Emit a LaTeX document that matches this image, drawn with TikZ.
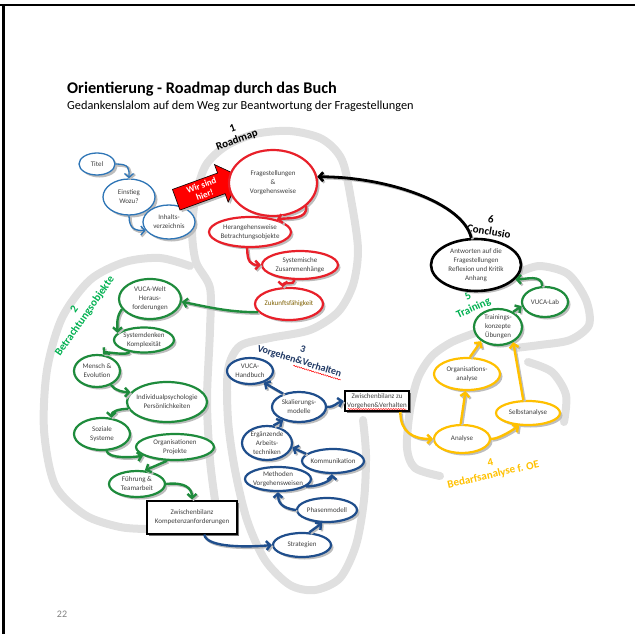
\documentclass[tikz,border=0pt]{standalone}
\usepackage{fontspec}
\setmainfont{Carlito}
\usetikzlibrary{shapes.geometric,shapes.arrows,shadows,arrows.meta,decorations.pathmorphing,calc}

\definecolor{roadgray}{HTML}{E0E0E0}
\definecolor{shadowgray}{HTML}{BDBDBD}
\definecolor{txtgray}{HTML}{404040}
\definecolor{mapred}{HTML}{E8202A}
\definecolor{introblue}{HTML}{2E75B6}
\definecolor{wayblue}{HTML}{1F4E8C}
\definecolor{objgreen}{HTML}{1E8B3C}
\definecolor{lblgreen}{HTML}{00B050}
\definecolor{anyellow}{HTML}{FFC000}
\definecolor{lblblue}{HTML}{1F3864}
\definecolor{futurebrown}{HTML}{7F6000}

\newcommand\nodefont{\fontsize{7}{9}\selectfont}
\newcommand\lblfont{\fontsize{11}{12.5}\selectfont\bfseries}

\tikzset{
  blob/.style={ellipse, draw, line width=2.2pt, fill=white, inner xsep=-5pt, inner ysep=-2pt,
    align=center, font=\nodefont, text=txtgray,
    drop shadow={shadow xshift=2.5pt, shadow yshift=-2.5pt, fill=shadowgray, opacity=1}},
  introblob/.style={blob, draw=introblue, line width=1.3pt},
  redblob/.style={blob, draw=mapred},
  blackblob/.style={blob, draw=black, line width=2.6pt},
  greenblob/.style={blob, draw=objgreen},
  yellowblob/.style={blob, draw=anyellow},
  blueblob/.style={blob, draw=wayblue},
  box/.style={rectangle, draw=black, line width=2pt, fill=white, inner sep=2.5pt,
    align=center, font=\nodefont, text=txtgray,
    drop shadow={shadow xshift=2pt, shadow yshift=-2pt, fill=black!55, opacity=1}},
  flow/.style={line width=2.4pt, -{Straight Barb[length=4pt,width=9pt]},
    preaction={draw=shadowgray, line width=2.4pt, transform canvas={shift={(1.5pt,-1.5pt)}}}},
  introflow/.style={flow, draw=introblue, line width=1.3pt},
  redflow/.style={flow, draw=mapred},
  blackflow/.style={flow, draw=black, line width=2.8pt},
  greenflow/.style={flow, draw=objgreen},
  yellowflow/.style={flow, draw=anyellow},
  blueflow/.style={flow, draw=wayblue},
  road/.style={draw=roadgray, line width=8pt, line cap=round, line join=round},
  lbl/.style={align=center, font=\lblfont, inner sep=1pt},
  spellred/.style={draw=red, line width=0.5pt, decorate,
    decoration={snake, amplitude=0.5pt, segment length=2.5pt}}
}

\begin{document}
\begin{tikzpicture}[x=1pt,y=-1pt]
\useasboundingbox (0,0) rectangle (635,634);
% frame of the page
\draw[line width=2.5pt] (0,5) -- (635,5);
\draw[line width=3pt] (3,5) -- (3,634);

% title
\node[anchor=base west, inner sep=0pt, font=\fontsize{16.3}{18}\selectfont\bfseries] (title) at (67,94) {Orientierung - Roadmap durch das Buch};
\node[anchor=base west, inner sep=0pt, font=\fontsize{12.3}{14}\selectfont] (subtitle) at (67,110) {Gedankenslalom auf dem Weg zur Beantwortung der Fragestellungen};

% gray road
\draw[road] plot[smooth] coordinates {(215,500) (210,460) (207,400) (210,330) (210,288) (196,262) (192,230) (196,195) (206,165) (226,146) (255,134) (290,131) (322,139) (342,160) (352,205) (358,250) (353,285) (338,312) (310,330) (270,338) (240,346) (228,370) (228,420) (235,470) (247,520) (265,560) (290,585) (315,590) (340,578) (356,545) (364,500) (366,455) (363,420)};
\draw[road] plot[smooth] coordinates {(190,266) (160,258) (125,262) (90,280) (62,318) (47,370) (44,430) (55,485) (85,515) (120,527) (148,529)};
\draw[road] plot[smooth] coordinates {(440,476) (415,468) (407,448) (410,410) (418,378) (432,356) (452,342) (478,332)};
\draw[road] plot[smooth] coordinates {(528,362) (552,372) (566,395) (564,422)};
\draw[road] plot[smooth] coordinates {(520,272) (540,266) (568,274) (586,300) (589,325) (570,340) (540,345) (515,348)};

% intro
\node[introblob, minimum width=36pt, minimum height=22pt] (titel) at (97,164) {Titel};
\node[introblob, minimum width=52pt, minimum height=36pt] (einstieg) at (129,197) {Einstieg\\Wozu?};
\node[introblob, minimum width=52pt, minimum height=34pt] (inhalt) at (169,222) {Inhalts-\\verzeichnis};
\draw[introflow] (titel.east) .. controls +(14,0) and +(0,-10) .. (einstieg.north);
\draw[introflow] (einstieg.south) .. controls +(0,14) and +(-10,0) .. (inhalt.200);

% you are here
\node[single arrow, draw=black, line width=0.6pt, fill=red, text=white,
  font=\fontsize{9}{10}\selectfont\bfseries, align=center, inner sep=2.5pt,
  single arrow head extend=9pt, minimum height=68pt, rotate=20,
  drop shadow={shadow xshift=2pt, shadow yshift=-2pt, fill=shadowgray, opacity=1}] (hier) at (203,190) {Wir sind\\hier!};

% 1 Roadmap
\node[lbl, rotate=20] (lbl1) at (235,135) {1\\Roadmap};
\node[redblob, minimum width=88pt, minimum height=66pt] (frage) at (273,183) {Fragestellungen\\\&\\Vorgehensweise};
\node[redblob, minimum width=82pt, minimum height=30pt] (heran) at (250,232) {Herangehensweise\\Betrachtungsobjekte};
\node[redblob, minimum width=76pt, minimum height=28pt] (system) at (300,265) {Systemische\\Zusammenhänge};
\node[redblob, minimum width=68pt, minimum height=32pt, text=futurebrown] (zukunft) at (289,304) {Zukunftsfähigkeit};
\draw[redflow] (frage.-35) .. controls +(2,14) and +(12,-2) .. (heran.25);
\draw[redflow] (heran.-100) .. controls +(0,14) and +(-10,0) .. (system.west);
\draw[redflow] (system.-110) .. controls +(0,6) and +(0,-6) .. (zukunft.110);

% 2 Betrachtungsobjekte
\node[lbl, text=lblgreen, rotate=55] (lbl2) at (80,313) {2\\Betrachtungsobjekte};
\node[greenblob, minimum width=62pt, minimum height=40pt] (vucawelt) at (150,299) {VUCA-Welt\\Heraus-\\forderungen};
\node[greenblob, minimum width=60pt, minimum height=25pt] (sysd) at (144,340) {Systemdenken\\Komplexität};
\node[greenblob, minimum width=46pt, minimum height=32pt] (mensch) at (97,371) {Mensch \&\\Evolution};
\node[greenblob, minimum width=80pt, minimum height=40pt] (indiv) at (167,402) {Individualpsychologie\\Persönlichkeiten};
\node[greenblob, minimum width=56pt, minimum height=32pt] (sozial) at (102,434) {Soziale\\Systeme};
\node[greenblob, minimum width=78pt, minimum height=26pt] (orgproj) at (175,447) {Organisationen\\Projekte};
\node[greenblob, minimum width=56pt, minimum height=26pt] (fuehr) at (137,484) {Führung \&\\Teamarbeit};
\node[box, minimum width=90pt, minimum height=33pt] (kompz) at (192,517) {Zwischenbilanz\\Kompetenzanforderungen};
\draw[greenflow] (zukunft.195) .. controls +(-30,0) and +(25,5) .. (vucawelt.-5);
\draw[greenflow] (vucawelt.200) .. controls +(-6,8) and +(0,-8) .. (sysd.165);
\draw[greenflow] (sysd.-140) .. controls +(-3,4) and +(3,-3) .. (mensch.70);
\draw[greenflow] (mensch.-45) .. controls +(4,6) and +(-6,0) .. (indiv.165);
\draw[greenflow] (indiv.190) .. controls +(-10,0) and +(0,-6) .. (sozial.60);
\draw[greenflow] (sozial.-75) .. controls +(2,8) and +(-10,2) .. (orgproj.195);
\draw[greenflow] (orgproj.-120) -- (fuehr.60);
\draw[greenflow] (fuehr.east) .. controls +(18,-2) and +(0,-12) .. (kompz.north);

% 3 Vorgehen & Verhalten
\node[lbl, text=lblblue, rotate=-17, font=\fontsize{10}{12}\selectfont\bfseries] (lbl3) at (301,356) {3\\Vorgehen\&Verhalten};
\draw[spellred] ($(lbl3.south west)!0.45!(lbl3.south east)$) -- (lbl3.south east);
\node[blueblob, minimum width=46pt, minimum height=26pt] (handbuch) at (250,371) {VUCA-\\Handbuch};
\node[blueblob, minimum width=54pt, minimum height=30pt] (skal) at (299,407) {Skalierungs-\\modelle};
\node[box] (zwv) at (377,401) {Zwischenbilanz zu\\Vorgehen\&Verhalten};
\draw[spellred] ($(zwv.south west)+(4,-3)$) -- ($(zwv.south east)+(-4,-3)$);
\node[blueblob, minimum width=50pt, minimum height=34pt] (erg) at (267,443) {Ergänzende\\Arbeits-\\techniken};
\node[blueblob, minimum width=62pt, minimum height=24pt] (komm) at (333,461) {Kommunikation};
\node[blueblob, minimum width=66pt, minimum height=24pt] (meth) at (278,479) {Methoden\\Vorgehensweisen};
\node[blueblob, minimum width=60pt, minimum height=24pt] (phasen) at (327,510) {Phasenmodell};
\node[blueblob, minimum width=58pt, minimum height=24pt] (strat) at (302,545) {Strategien};
\draw[blueflow] (kompz.-55) .. controls +(2,14) and +(-20,2) .. (strat.west);
\draw[blueflow] (strat.60) -- (phasen.-110);
\draw[blueflow] (phasen.west) .. controls +(-15,-2) and +(0,10) .. (meth.-90);
\draw[blueflow] (meth.-15) .. controls +(14,0) and +(0,6) .. (komm.-95);
\draw[blueflow] (komm.165) -- (erg.-10);
\draw[blueflow] (erg.70) -- (skal.-140);
\draw[blueflow] (skal.140) -- (handbuch.-40);
\draw[blueflow] (skal.east) .. controls +(8,0) and +(-8,2) .. (zwv.west);

% 4 Bedarfsanalyse
\node[lbl, text=anyellow, rotate=13] (lbl4) at (492,469) {4\\Bedarfsanalyse f. OE};
\node[yellowblob, minimum width=66pt, minimum height=32pt] (organa) at (467,374) {Organisations-\\analyse};
\node[yellowblob, minimum width=64pt, minimum height=24pt] (selbst) at (528,413) {Selbstanalyse};
\node[yellowblob, minimum width=56pt, minimum height=28pt] (analyse) at (462,439) {Analyse};

% 5 Training
\node[lbl, text=lblgreen, rotate=25] (lbl5) at (471,303) {5\\Training};
\node[greenblob, minimum width=48pt, minimum height=36pt] (trainkonz) at (498,327) {Trainings-\\konzepte\\Übungen};
\node[greenblob, minimum width=46pt, minimum height=30pt] (vucalab) at (545,302) {VUCA-Lab};

\draw[yellowflow] ($(zwv.south east)+(-10,0)$) .. controls +(0,20) and +(-20,0) .. (analyse.west);
\draw[yellowflow] (analyse.95) -- (organa.-95);
\draw[yellowflow] (organa.80) -- (trainkonz.-140);
\draw[yellowflow] (analyse.east) .. controls +(8,0) and +(-6,4) .. (selbst.-125);
\draw[yellowflow] (selbst.110) -- (trainkonz.-45);
\draw[greenflow] (trainkonz.45) -- (vucalab.190);

% 6 Conclusio
\node[lbl, rotate=-10] (lbl6) at (490,225) {6\\Conclusio};
\node[blackblob, minimum width=90pt, minimum height=52pt] (antw) at (476,265) {Antworten auf die\\Fragestellungen\\Reflexion und Kritik\\Anhang};
\draw[greenflow] (vucalab.100) .. controls +(0,-12) and +(10,0) .. (antw.-20);
\draw[blackflow] (antw.100) .. controls +(-8,-35) and +(70,0) .. (frage.8);

% page number
\node[text=gray, font=\fontsize{10}{12}\selectfont] (pgnum) at (62,614) {22};
\end{tikzpicture}
\end{document}
